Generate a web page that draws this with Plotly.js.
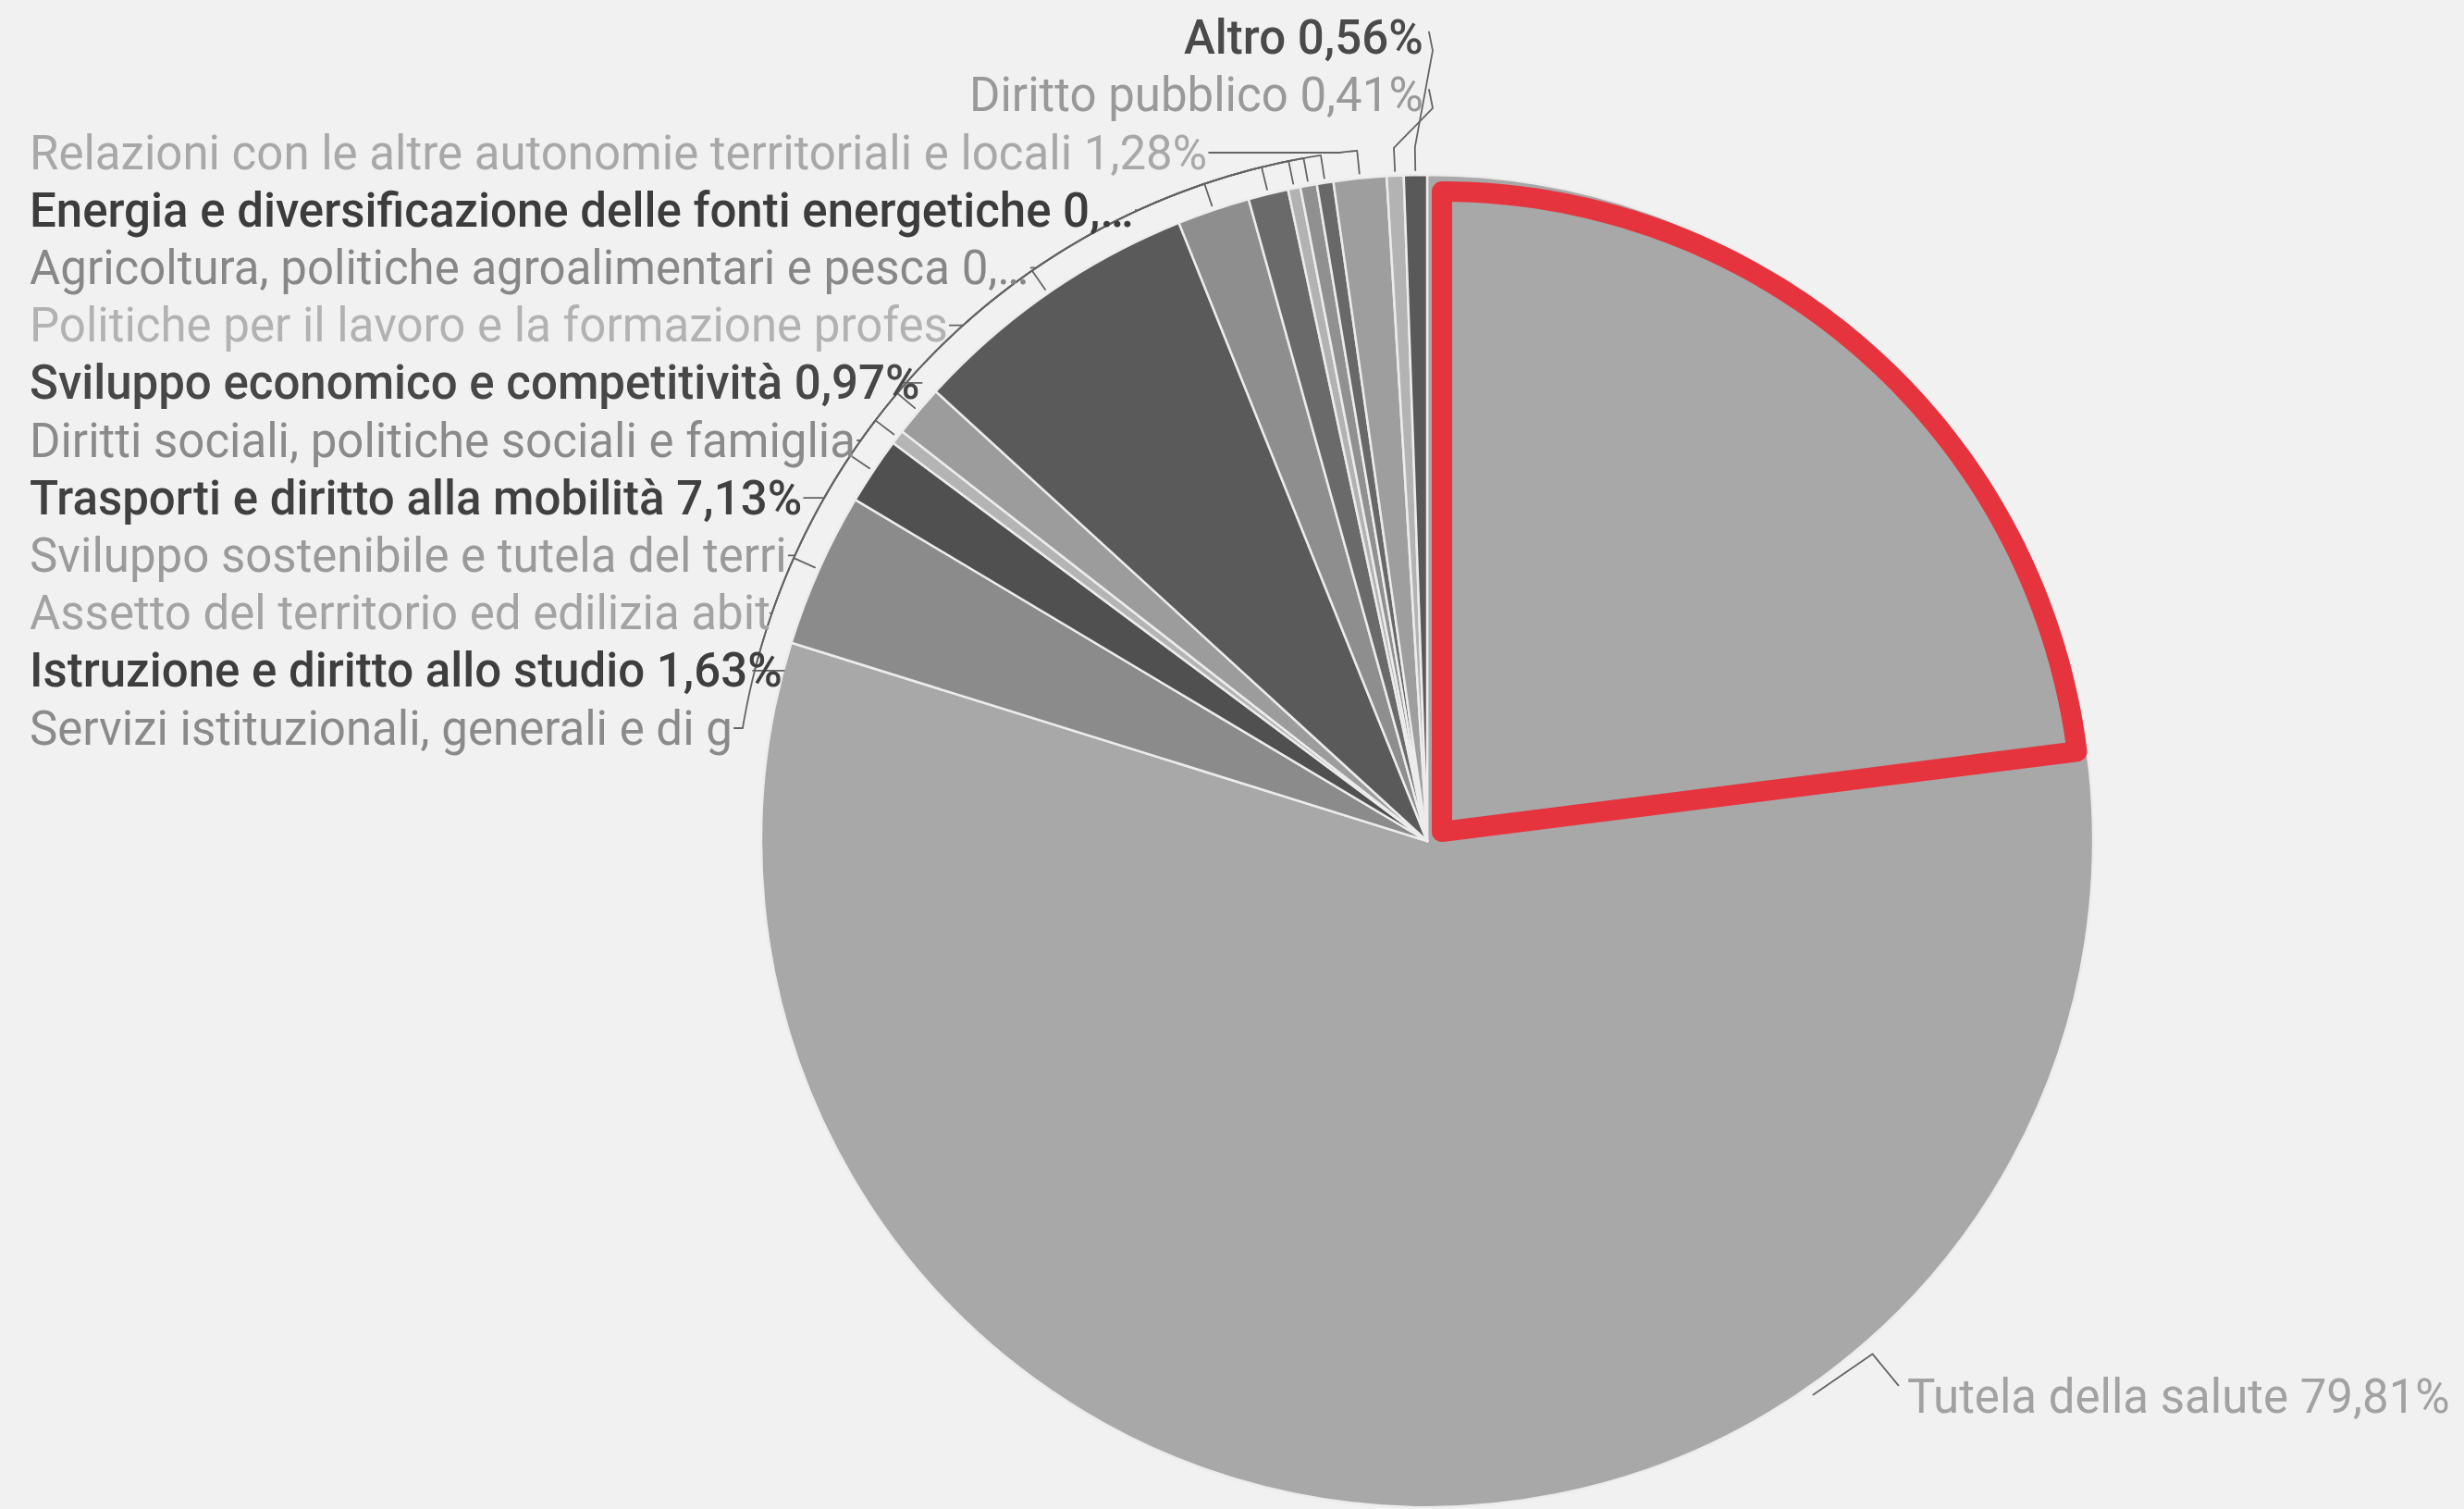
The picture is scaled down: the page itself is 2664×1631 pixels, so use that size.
<!DOCTYPE html>
<html>
<head>
<meta charset="utf-8">
<script src="https://cdn.plot.ly/plotly-3.0.1.min.js"></script>
<style>
  html, body { margin: 0; padding: 0; background: #f1f1f1; }
  #chart { width: 2664px; height: 1631px; }
</style>
</head>
<body>
<div id="chart"></div>
<script>
// ---------------- data ----------------
const categories = [
  "Tutela della salute",
  "Servizi istituzionali, generali e di gestione",
  "Istruzione e diritto allo studio",
  "Assetto del territorio ed edilizia abitativa",
  "Sviluppo sostenibile e tutela del territorio e dell'ambiente",
  "Trasporti e diritto alla mobilità",
  "Diritti sociali, politiche sociali e famiglia",
  "Sviluppo economico e competitività",
  "Politiche per il lavoro e la formazione professionale",
  "Agricoltura, politiche agroalimentari e pesca",
  "Energia e diversificazione delle fonti energetiche",
  "Relazioni con le altre autonomie territoriali e locali",
  "Diritto pubblico",
  "Altro"
];
const shares = [79.81, 3.75, 1.63, 0.35, 1.25, 7.13, 1.76, 0.97, 0.30, 0.40, 0.40, 1.28, 0.41, 0.56];
const shownLabels = [
  "Tutela della salute 79,81%",
  "Servizi istituzionali, generali e di g",
  "Istruzione e diritto allo studio 1,63%",
  "Assetto del territorio ed edilizia abit",
  "Sviluppo sostenibile e tutela del terri",
  "Trasporti e diritto alla mobilità 7,13%",
  "Diritti sociali, politiche sociali e famiglia",
  "Sviluppo economico e competitività 0,97%",
  "Politiche per il lavoro e la formazione profes",
  "Agricoltura, politiche agroalimentari e pesca 0,…",
  "Energia e diversificazione delle fonti energetiche 0,…",
  "Relazioni con le altre autonomie territoriali e locali 1,28%",
  "Diritto pubblico 0,41%",
  "Altro 0,56%"
];
// highlighted portion of the pie (red outline), as a share of the whole
const highlightShare = 0.23;

// ---------------- styles ----------------
const sliceColors = ["#a8a8a8", "#8b8b8b", "#505050", "#b4b4b4", "#9c9c9c", "#5a5a5a", "#8e8e8e",
                     "#6a6a6a", "#b2b2b2", "#909090", "#686868", "#9e9e9e", "#b3b3b3", "#595959"];
const labelColors = ["#a2a2a2", "#8a8a8a", "#3e3e3e", "#a3a3a3", "#9a9a9a", "#404040", "#8a8a8a",
                     "#474747", "#b2b2b2", "#878787", "#3c3c3c", "#a8a8a8", "#999999", "#4a4a4a"];
const weightOf = c => (parseInt(c.slice(1, 3), 16) < 0x60 ? 500 : 400);

// ---------------- layout geometry ----------------
const W = 2664, H = 1631;
const CX = 1543, CY = 909, R = 720, R_ARC = 750;
const FONT = "Roboto, 'Open Sans', sans-serif";
const FONT_SIZE = 51;
const LABEL_X0 = 30, LABEL_Y0 = 787, LABEL_STEP = 62.2;
const LEADER = "#646464";

const px = x => x / W;
const py = y => 1 - y / H;
const polar = (rad, deg) => {
  const a = deg * Math.PI / 180;
  return [CX + rad * Math.sin(a), CY - rad * Math.cos(a)];
};
const pathOf = pts => pts.map((p, i) => (i ? "L" : "M") + px(p[0]).toFixed(5) + "," + py(p[1]).toFixed(5)).join(" ");

const ctx = document.createElement("canvas").getContext("2d");
const textWidth = (s, wt) => { ctx.font = wt + " " + FONT_SIZE + "px Roboto"; return ctx.measureText(s).width; };

const total = shares.reduce((a, b) => a + b, 0);
let cum = 0;
const midDeg = shares.map(v => { const m = (cum + v / 2) / total * 360; cum += v; return m; });

const annotations = [];
const shapes = [];
const labelFont = i => ({family: FONT, size: FONT_SIZE, color: labelColors[i], weight: weightOf(labelColors[i])});

// left-side labels (slices 1..n-1)
for (let i = 1; i < categories.length; i++) {
  const k = i - 1;
  const y = LABEL_Y0 - k * LABEL_STEP;
  const w = textWidth(shownLabels[i], weightOf(labelColors[i]));
  const th = midDeg[i];
  let pts;
  if (y > CY - R_ARC) {
    annotations.push({
      xref: "paper", yref: "paper", x: px(LABEL_X0), y: py(y), xanchor: "left", yanchor: "middle",
      text: shownLabels[i], showarrow: false, font: labelFont(i)
    });
    const xEnd = LABEL_X0 + w;
    const entry = 360 - Math.acos((CY - y) / R_ARC) * 180 / Math.PI;
    const e = polar(R_ARC, entry);
    pts = [[xEnd + 4, y], [Math.min(xEnd + 14, e[0] - 2), y]];
    const n = Math.max(2, Math.ceil(Math.abs(th - entry) / 0.5));
    for (let s = 0; s <= n; s++) pts.push(polar(R_ARC, entry + (th - entry) * s / n));
    pts.push(polar(R + 5, th));
  } else {
    const xR = CX - 2;
    annotations.push({
      xref: "paper", yref: "paper", x: px(xR), y: py(y), xanchor: "right", yanchor: "middle",
      text: shownLabels[i], showarrow: false, font: labelFont(i)
    });
    pts = [[xR + 4, y - 6], [xR + 8, y + 14], polar(R_ARC, th), polar(R + 5, th)];
  }
  shapes.push({type: "path", xref: "paper", yref: "paper", path: pathOf(pts),
               line: {color: LEADER, width: 1.8}, layer: "above"});
}

// right-side label for the first (largest) slice
{
  const a = polar(R + 8, midDeg[0]);
  const p1 = [a[0] + 50, a[1] - 32];
  const lx = a[0] + 86, ly = a[1] + 14;
  annotations.push({
    xref: "paper", yref: "paper", x: px(lx), y: py(ly), xanchor: "left", yanchor: "middle",
    text: shownLabels[0], showarrow: false, font: labelFont(0)
  });
  shapes.push({type: "path", xref: "paper", yref: "paper",
               path: pathOf([[a[0] - 14, a[1] + 12], p1, [lx - 8, ly - 12]]),
               line: {color: LEADER, width: 1.8}, layer: "above"});
}

// red highlight wedge
{
  const vx = CX + 16, vy = CY - 10, rr = 692;
  const endDeg = highlightShare * 360;
  const pts = [[vx, vy]];
  const n = 120;
  for (let s = 0; s <= n; s++) {
    const a = endDeg * s / n * Math.PI / 180;
    pts.push([vx + rr * Math.sin(a), vy - rr * Math.cos(a)]);
  }
  shapes.push({type: "path", xref: "paper", yref: "paper", path: pathOf(pts) + " Z",
               line: {color: "#e6343f", width: 22}, layer: "above"});
}

const trace = {
  type: "pie",
  labels: categories,
  values: shares,
  sort: false,
  direction: "clockwise",
  rotation: 0,
  textinfo: "none",
  hoverinfo: "label+percent",
  marker: {colors: sliceColors, line: {color: "#ececec", width: 2.5}},
  domain: {x: [px(CX - R), px(CX + R)], y: [py(CY + R), py(CY - R)]},
  automargin: false
};

const layout = {
  width: W, height: H,
  margin: {l: 0, r: 0, t: 0, b: 0, pad: 0},
  paper_bgcolor: "#f1f1f1",
  plot_bgcolor: "#f1f1f1",
  showlegend: false,
  annotations: annotations,
  shapes: shapes,
  font: {family: FONT}
};

Plotly.newPlot("chart", [trace], layout, {displayModeBar: false, responsive: false}).then(() => {
  document.querySelectorAll(".shapelayer path").forEach(p => {
    p.style.strokeLinejoin = "round";
    p.style.strokeLinecap = "round";
  });
});
</script>
</body>
</html>
